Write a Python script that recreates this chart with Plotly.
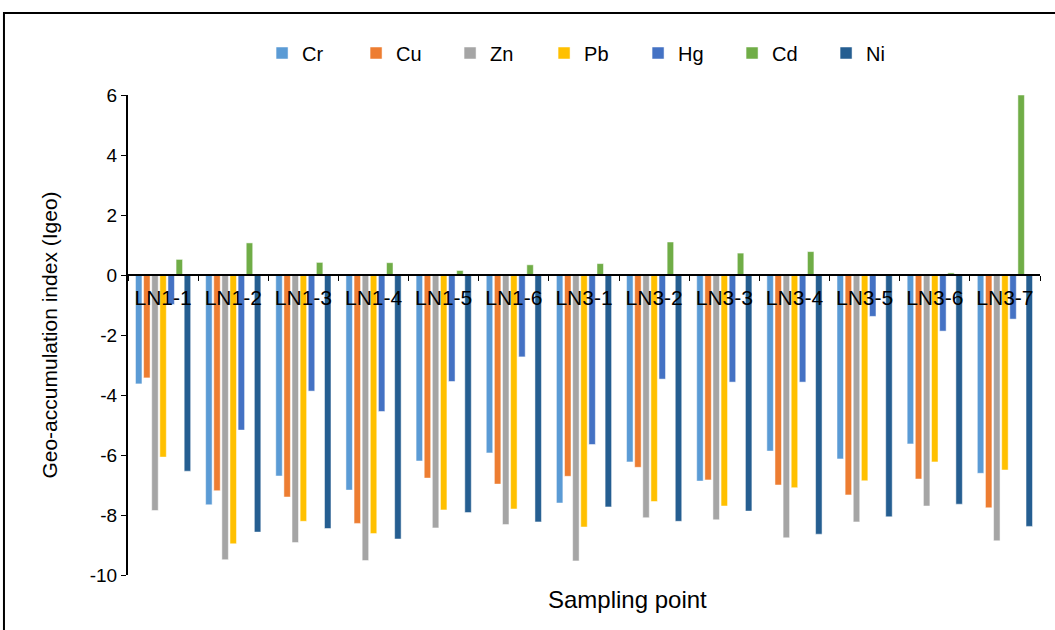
import plotly.graph_objects as go

categories = ["LN1-1", "LN1-2", "LN1-3", "LN1-4", "LN1-5", "LN1-6", "LN3-1",
              "LN3-2", "LN3-3", "LN3-4", "LN3-5", "LN3-6", "LN3-7"]

Cr = [-3.63, -7.66, -6.70, -7.17, -6.20, -5.93, -7.60, -6.23, -6.87, -5.87, -6.13, -5.63, -6.61]
Cu = [-3.43, -7.19, -7.40, -8.28, -6.77, -6.97, -6.71, -6.41, -6.83, -7.00, -7.33, -6.80, -7.76]
Zn = [-7.85, -9.49, -8.92, -9.52, -8.43, -8.32, -9.53, -8.09, -8.16, -8.76, -8.23, -7.70, -8.86]
Pb = [-6.07, -8.96, -8.21, -8.62, -7.83, -7.80, -8.40, -7.55, -7.70, -7.09, -6.86, -6.23, -6.50]
Hg = [-0.98, -5.17, -3.87, -4.55, -3.55, -2.73, -5.65, -3.47, -3.57, -3.57, -1.38, -1.87, -1.47]
Cd = [0.52, 1.07, 0.42, 0.41, 0.15, 0.34, 0.38, 1.10, 0.73, 0.78, 0.0, 0.07, 6.0]
Ni = [-6.54, -8.57, -8.45, -8.80, -7.92, -8.23, -7.73, -8.21, -7.87, -8.64, -8.06, -7.64, -8.38]

y_tick_values = [6, 4, 2, 0, -2, -4, -6, -8, -10]
y_tick_labels = ["6", "4", "2", "0", "-2", "-4", "-6", "-8", "-10"]

series = [
    ("Cr", Cr, "#5B9BD5"),
    ("Cu", Cu, "#ED7D31"),
    ("Zn", Zn, "#A5A5A5"),
    ("Pb", Pb, "#FFC000"),
    ("Hg", Hg, "#4472C4"),
    ("Cd", Cd, "#70AD47"),
    ("Ni", Ni, "#255E91"),
]

fig = go.Figure()
for name, vals, color in series:
    fig.add_trace(go.Bar(
        x=categories, y=vals, name=name,
        marker=dict(color=color, line=dict(color="white", width=0.5)),
    ))

font_family = "Liberation Sans, Arial, sans-serif"

fig.update_layout(
    width=1055, height=630,
    margin=dict(l=128, r=15, t=95, b=55),
    plot_bgcolor="white", paper_bgcolor="white",
    barmode="group", bargap=0.19, bargroupgap=0.2,
    font=dict(family=font_family, color="black"),
    legend=dict(
        orientation="h", x=0.147, xanchor="left", y=1.0875, yanchor="middle",
        font=dict(size=20, family=font_family),
        entrywidth=49, entrywidthmode="pixels", itemwidth=30,
        traceorder="normal",
    ),
    xaxis=dict(
        anchor="free", position=0.625,
        showline=True, linecolor="black", linewidth=2,
        ticks="outside", tickson="boundaries", ticklen=5, tickcolor="black",
        tickfont=dict(size=21, family=font_family), ticklabelstandoff=4,
        showgrid=False, zeroline=False,
    ),
    yaxis=dict(
        range=[-10, 6], tickmode="array", tickvals=y_tick_values, ticktext=y_tick_labels,
        showline=True, linecolor="black", linewidth=2,
        ticks="outside", ticklen=5, tickcolor="black",
        tickfont=dict(size=19, family=font_family),
        showgrid=False, zeroline=False,
        title=dict(text="Geo-accumulation index (Igeo)", font=dict(size=21, family=font_family), standoff=26),
    ),
    annotations=[
        dict(text="Sampling point", xref="paper", yref="paper",
             x=0.548, y=-0.052, xanchor="center", yanchor="middle",
             showarrow=False, font=dict(size=24, family=font_family)),
    ],
    shapes=[
        dict(type="rect", xref="paper", yref="paper",
             x0=-0.136, x1=1.2, y0=-0.3, y1=1.171,
             line=dict(color="black", width=2), fillcolor="rgba(0,0,0,0)", layer="below"),
    ],
)

fig.write_html("out.html")
